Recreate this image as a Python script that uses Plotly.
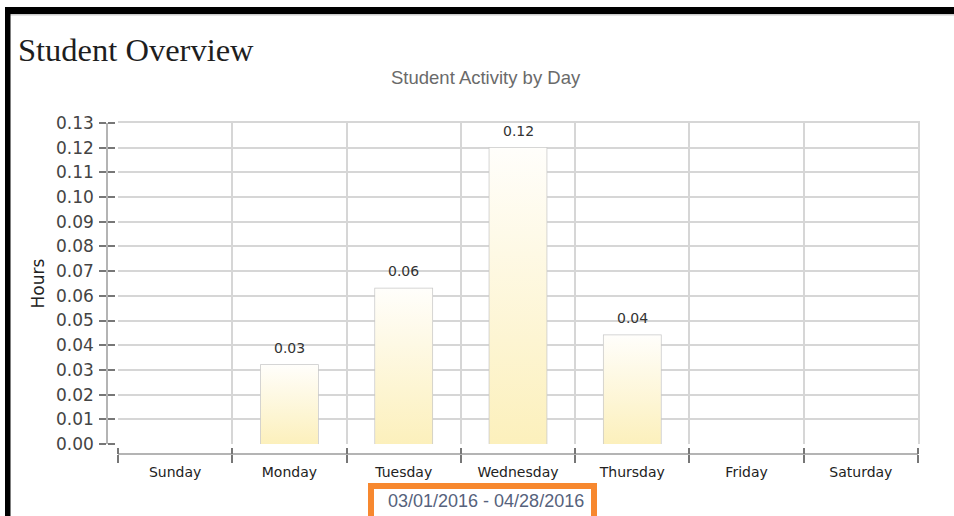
import plotly.graph_objects as go

# data
days = ["Sunday", "Monday", "Tuesday", "Wednesday", "Thursday", "Friday", "Saturday"]
hours = [0, 0.032, 0.063, 0.12, 0.044, 0, 0]
y_ticks = [0.00, 0.01, 0.02, 0.03, 0.04, 0.05, 0.06, 0.07, 0.08, 0.09, 0.10, 0.11, 0.12, 0.13]
y_tick_labels = ["0.00", "0.01", "0.02", "0.03", "0.04", "0.05", "0.06",
                 "0.07", "0.08", "0.09", "0.10", "0.11", "0.12", "0.13"]
page_title = "Student Overview"
chart_title = "Student Activity by Day"
date_range = "03/01/2016 - 04/28/2016"

W, H = 954, 516
L, R, T, B = 107, 918, 123, 454  # plot box in pixels (axis lines sit on L and B)


def px_x(px):
    return (px - L) / (R - L)


def px_y(py):
    return (B - py) / (B - T)


idx = list(range(len(days)))
bounds = [i - 0.5 for i in idx] + [len(days) - 0.5]
xr = [-0.5, len(days) - 0.5]
yr = [0, 0.13]

GRID = "#d6d6d6"
AXLINE = "#b4b4b4"
TICK = "#777777"
TICK_FONT = dict(family="DejaVu Sans", size=17, color="#444444")

fig = go.Figure()

# gradient fill for each bar (white at top, pale yellow at bottom)
for i, v in zip(idx, hours):
    if v <= 0:
        continue
    fig.add_trace(go.Scatter(
        x=[i - 0.25, i - 0.25, i + 0.25, i + 0.25, i - 0.25],
        y=[0, v, v, 0, 0],
        mode="lines", fill="toself",
        fillgradient=dict(type="vertical", colorscale=[[0, "#fcf0bc"], [1, "#fffefb"]]),
        line=dict(width=0), hoverinfo="skip", showlegend=False,
    ))

# bar outlines
fig.add_trace(go.Bar(
    x=idx, y=[v if v > 0 else None for v in hours], width=0.5,
    marker=dict(color="rgba(0,0,0,0)", line=dict(color="#c8c8c8", width=1.5)),
    showlegend=False, hoverinfo="skip",
))

# invisible points so the overlaid label/tick axes get drawn
for xa, ya in [("x2", "y2"), ("x3", "y3"), ("x4", "y3")]:
    fig.add_trace(go.Scatter(x=idx, y=hours, xaxis=xa, yaxis=ya, mode="markers",
                             marker=dict(opacity=0), hoverinfo="skip", showlegend=False))

# value labels above bars
for i, v in zip(idx, hours):
    if v <= 0:
        continue
    fig.add_annotation(x=i, y=v, text=f"{v:.2f}", showarrow=False, yanchor="middle", yshift=17,
                       font=dict(family="DejaVu Sans", size=14, color="#333333"))

fig.update_layout(
    width=W, height=H,
    margin=dict(l=L, r=W - R, t=T, b=H - B, pad=0),
    plot_bgcolor="white", paper_bgcolor="white", showlegend=False,
    title=dict(text=page_title, x=18 / W, xanchor="left", xref="container",
               y=1 - 38 / H, yanchor="top", yref="container",
               font=dict(family="Liberation Serif", size=32.5, color="#1e1e1e")),
    # main axes: gridlines only (top/right lines close the grid)
    xaxis=dict(domain=[px_x(118), 1], range=xr, tickmode="array", tickvals=bounds[1:],
               showticklabels=False, ticks="", showgrid=True, gridcolor=GRID, gridwidth=1.5,
               zeroline=False, side="top", showline=True, linecolor=GRID, linewidth=1.5),
    yaxis=dict(domain=[px_y(444), 1], range=yr, tickmode="array", tickvals=y_ticks[1:],
               showticklabels=False, ticks="", showgrid=True, gridcolor=GRID, gridwidth=1.5,
               zeroline=False, side="right", showline=True, linecolor=GRID, linewidth=1.5),
    # category labels + axis line
    xaxis2=dict(overlaying="x", anchor="free", position=0, range=xr, tickmode="array",
                tickvals=idx, ticktext=days, ticks="", showline=True, linecolor=AXLINE, linewidth=1.5,
                showgrid=False, zeroline=False, ticklabelstandoff=5,
                tickfont=dict(family="DejaVu Sans", size=14, color="#222222")),
    # boundary ticks crossing the x axis line
    xaxis3=dict(overlaying="x", anchor="free", position=0, range=xr, tickmode="array",
                tickvals=bounds, ticks="outside", ticklen=8, tickwidth=1.5, tickcolor=TICK,
                showticklabels=False, showgrid=False, zeroline=False, showline=False),
    xaxis4=dict(overlaying="x", anchor="free", position=0, side="top", range=xr, tickmode="array",
                tickvals=bounds, ticks="outside", ticklen=6, tickwidth=1.5, tickcolor=TICK,
                showticklabels=False, showgrid=False, zeroline=False, showline=False),
    # value labels + axis line
    yaxis2=dict(overlaying="y", anchor="free", position=0, range=yr, tickmode="array",
                tickvals=y_ticks, ticktext=y_tick_labels, ticks="outside", ticklen=7, tickwidth=1.5,
                tickcolor=TICK, showline=True, linecolor=AXLINE, linewidth=1.5,
                showgrid=False, zeroline=False, ticklabelstandoff=2, tickfont=TICK_FONT,
                title=dict(text="Hours", standoff=6, font=dict(family="DejaVu Sans", size=17, color="#222222"))),
    yaxis3=dict(overlaying="y", anchor="free", position=0, side="right", range=yr, tickmode="array",
                tickvals=y_ticks, ticks="outside", ticklen=7, tickwidth=1.5, tickcolor=TICK,
                showticklabels=False, showgrid=False, zeroline=False, showline=False),
)

# subtitle and date range
fig.add_annotation(text=chart_title, xref="paper", yref="paper", x=px_x(486), y=px_y(77),
                   xanchor="center", yanchor="middle", showarrow=False,
                   font=dict(family="Liberation Sans", size=18.5, color="#6a6a6a"))
fig.add_shape(type="rect", xref="paper", yref="paper",
              x0=px_x(371), x1=px_x(594), y0=px_y(486), y1=px_y(540),
              line=dict(color="#f7882f", width=6), fillcolor="white", layer="below")
fig.add_annotation(text=date_range, xref="paper", yref="paper", x=px_x(486), y=px_y(501),
                   xanchor="center", yanchor="middle", showarrow=False,
                   font=dict(family="Liberation Sans", size=18, color="#56627c"))

# screenshot frame (black border top and left)
fig.add_shape(type="rect", xref="paper", yref="paper", x0=px_x(5), x1=px_x(970), y0=px_y(7), y1=px_y(14),
              fillcolor="black", line=dict(width=0))
fig.add_shape(type="rect", xref="paper", yref="paper", x0=px_x(10), x1=px_x(970), y0=px_y(14), y1=px_y(15.5),
              fillcolor="#cccccc", line=dict(width=0))
fig.add_shape(type="rect", xref="paper", yref="paper", x0=px_x(5), x1=px_x(10.5), y0=px_y(7), y1=px_y(530),
              fillcolor="black", line=dict(width=0))

# drop the default 8px page margin so the figure fills the window
fig.write_html("out.html", config={"displayModeBar": False},
               post_script="document.body.style.margin = '0';")
